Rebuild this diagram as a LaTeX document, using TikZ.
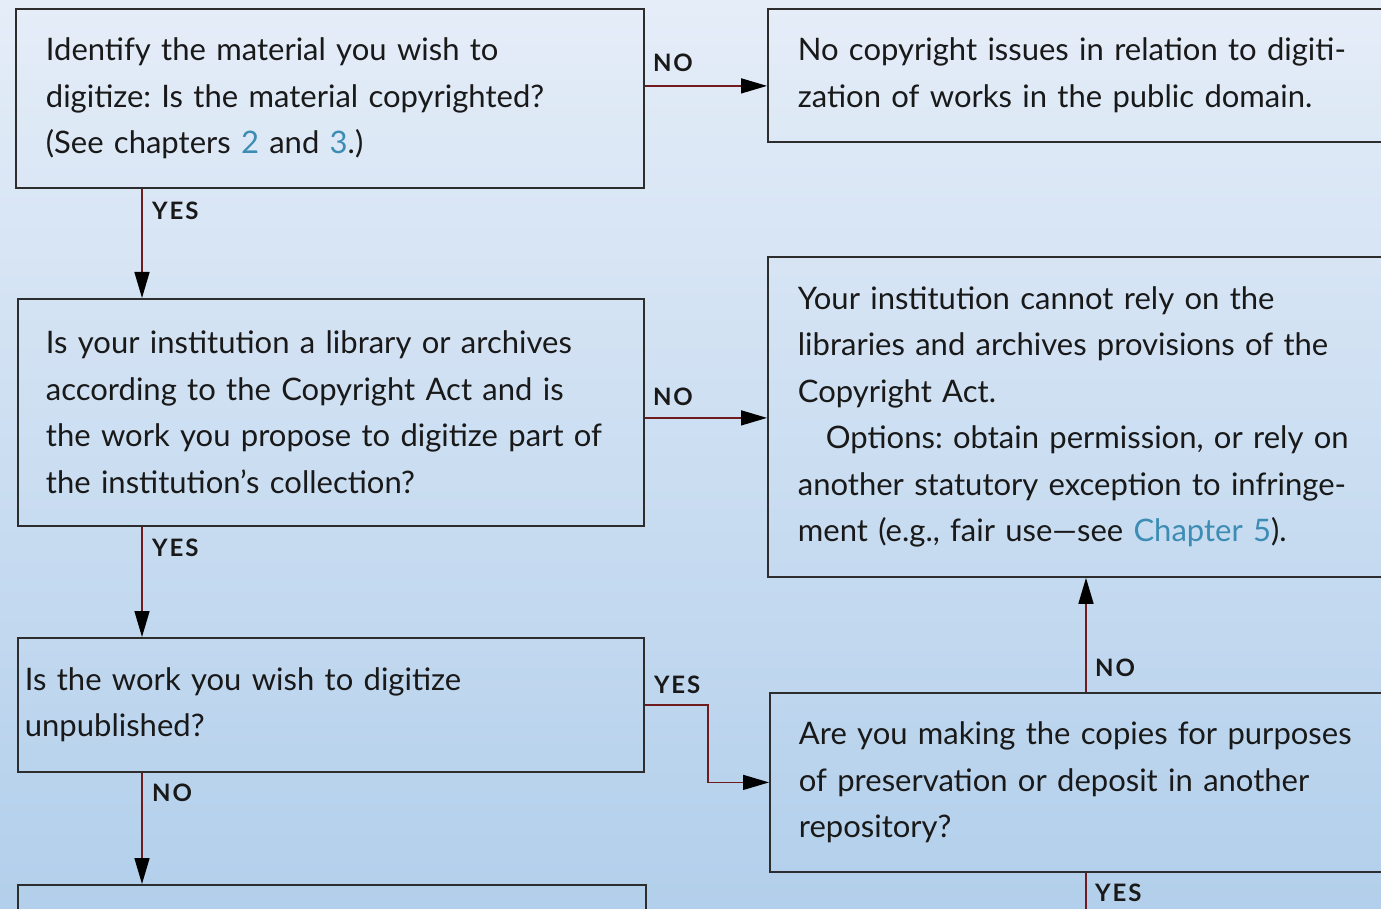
\documentclass[tikz,border=0pt]{standalone}
\usepackage{fontspec}
\setmainfont{Lato}
\usetikzlibrary{arrows.meta,positioning,calc}
\definecolor{bgtop}{RGB}{229,237,248}
\definecolor{bgbot}{RGB}{178,207,235}
\definecolor{frame}{RGB}{45,45,45}
\definecolor{flowred}{RGB}{112,28,30}
\definecolor{xref}{RGB}{60,140,180}
\definecolor{ink}{RGB}{25,25,25}
\frenchspacing
\DeclareRobustCommand\bodyfont{\fontsize{31}{46.5}\selectfont\spaceskip=0.2em\relax}

\begin{document}
\begin{tikzpicture}[x=1pt,y=-1pt,
    box/.style={draw=frame, line width=1.8pt, anchor=north west, align=left,
      text=ink, font=\bodyfont, inner ysep=0pt},
    flow/.style={draw=flowred, line width=1.5pt,
      -{Triangle[length=26pt,width=15pt,color=black]}},
    answer/.style={font=\fontsize{24}{24}\selectfont\bfseries\addfontfeature{LetterSpace=8},
      text=ink, inner sep=0pt}]
      \useasboundingbox (0,0) rectangle (1381,909);
      \clip (0,0) rectangle (1381,909);
      \shade[top color=bgtop, bottom color=bgbot] (0,0) rectangle (1381,909);
      \def\showBoxes{
        \node[box, text width=568pt, inner xsep=30pt, minimum height=179pt] (A) at (15,8)
          {Identify the material you wish to\\
           digitize: Is the material copyrighted?\\
           (See chapters \textcolor{xref}{2} and \textcolor{xref}{3}.)};
        \node[box, text width=660pt, inner xsep=30pt, minimum height=133pt] (B) at (767,8)
          {No copyright issues in relation to digiti-\\
           zation of works in the public domain.};
        \node[box, text width=570pt, inner xsep=28pt, minimum height=227pt] (C) at (17,298)
          {Is your institution a library or archives\\
           according to the Copyright Act and is\\
           the work you propose to digitize part of\\
           the institution's collection?};
        \node[box, text width=660pt, inner xsep=30pt, minimum height=320pt] (D) at (767,256)
          {Your institution cannot rely on the\\
           libraries and archives provisions of the\\
           Copyright Act.\\
           \hspace*{28pt}Options: obtain permission, or rely on\\
           another statutory exception to infringe-\\
           ment (e.g., fair use---see \textcolor{xref}{Chapter 5}).};
        \node[box, text width=612pt, inner xsep=7pt, minimum height=134pt] (E) at (17,637)
          {Is the work you wish to digitize\\
           unpublished?};
        \node[box, text width=660pt, inner xsep=29pt, minimum height=179pt] (F) at (769,692)
          {Are you making the copies for purposes\\
           of preservation or deposit in another\\
           repository?};
        \node[box, text width=568pt, inner xsep=30pt, minimum height=90pt] (G) at (17,884) {};
      }
      \def\showArrows{
        \coordinate (spine) at (142,0);
        \coordinate (rspine) at (1086,0);
        \coordinate (aOut) at ([yshift=12.5pt]A.east);
        \coordinate (cOut) at ([yshift=-5.5pt]C.east);
        \coordinate (exit) at (1086,990);
        % Draw the no branches to the right
        \draw[flow] (aOut) -- (aOut -| B.west);
        \draw[flow] (cOut) -- (cOut -| D.west);
        % Draw the yes chain down the left
        \draw[flow] (A.south -| spine) -- (C.north -| spine);
        \draw[flow] (C.south -| spine) -- (E.north -| spine);
        \draw[flow] (E.south -| spine) -- (G.north -| spine);
        \draw[flow] (E.east) -- ++(63,0) |- (F.west);
        \draw[flow] (F.north -| rspine) -- (D.south -| rspine);
        \draw[flow] (F.south -| rspine) -- (exit);
      }
      \def\showAnswers{
        \node[answer, above right=14pt and 8pt of aOut] (noA) {NO};
        \node[answer, below right=13pt and 10pt of A.south -| spine] (yesA) {YES};
        \node[answer, above right=12pt and 8pt of cOut] (noC) {NO};
        \node[answer, below right=12pt and 10pt of C.south -| spine] (yesC) {YES};
        \node[answer, above right=11pt and 9pt of E.east] (yesE) {YES};
        \node[answer, below right=11pt and 10pt of E.south -| spine] (noE) {NO};
        \node[answer, above right=15pt and 9pt of F.north -| rspine] (noF) {NO};
        \node[answer, below right=11pt and 9pt of F.south -| rspine] (yesF) {YES};
      }
      \showBoxes
      \showArrows
      \showAnswers
    \end{tikzpicture}
\end{document}
